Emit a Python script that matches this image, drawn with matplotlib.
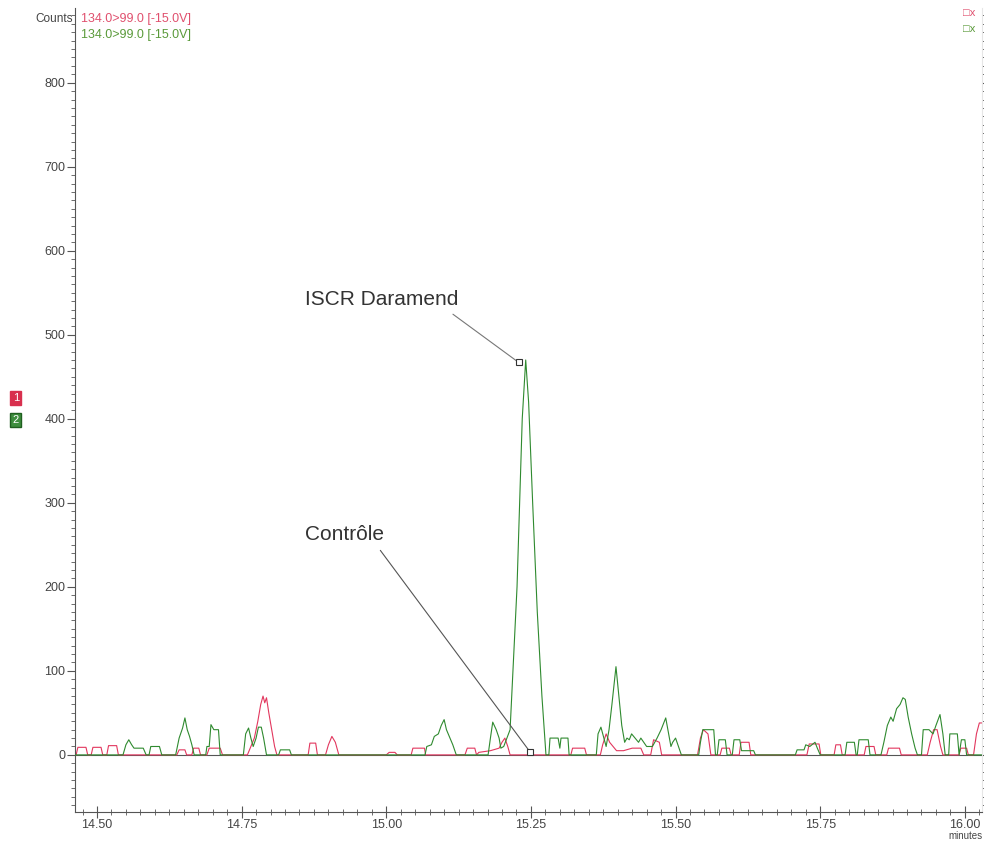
import numpy as np
import matplotlib
matplotlib.use("Agg")
import matplotlib.pyplot as plt
from matplotlib.ticker import MultipleLocator, FuncFormatter

plt.rcParams['font.family'] = ['Liberation Sans', 'DejaVu Sans']

# Trace 2 (green) - retention time (minutes) and counts
green_t = [14.462, 14.545, 14.550, 14.555, 14.560, 14.564, 14.580, 14.585, 14.590, 14.593, 14.608, 14.612,
           14.636, 14.642, 14.648, 14.652, 14.656, 14.660, 14.664, 14.668,
           14.688, 14.690, 14.694, 14.697, 14.702, 14.710, 14.713,
           14.753, 14.757, 14.762, 14.766, 14.770, 14.775, 14.779, 14.784, 14.788, 14.793,
           14.814, 14.817, 14.833, 14.836,
           15.067, 15.070, 15.078, 15.083, 15.090, 15.095, 15.100, 15.104, 15.110, 15.115, 15.121,
           15.176, 15.180, 15.184, 15.190, 15.195, 15.198,
           15.203, 15.214, 15.226, 15.235, 15.241, 15.246, 15.253, 15.261, 15.269, 15.276,
           15.281, 15.283, 15.297, 15.300, 15.302, 15.314, 15.316,
           15.363, 15.366, 15.371, 15.376, 15.380, 15.385, 15.390, 15.397, 15.402, 15.407, 15.412,
           15.416, 15.420, 15.424, 15.430, 15.436, 15.440,
           15.450, 15.460, 15.468, 15.475, 15.483, 15.488, 15.492, 15.495, 15.500, 15.505, 15.510,
           15.540, 15.543, 15.547, 15.566, 15.569,
           15.572, 15.575, 15.586, 15.589,
           15.598, 15.601, 15.611, 15.614, 15.635, 15.638,
           15.707, 15.710, 15.722, 15.725, 15.732, 15.741, 15.745, 15.750,
           15.793, 15.796, 15.809, 15.812, 15.814, 15.817, 15.833, 15.836,
           15.855, 15.860, 15.866, 15.872, 15.876, 15.882, 15.888, 15.893, 15.897, 15.902, 15.908, 15.914, 15.918,
           15.925, 15.928, 15.938, 15.945, 15.950, 15.957, 15.962, 15.966,
           15.972, 15.974, 15.987, 15.990, 15.994, 16.000, 16.003, 16.030]
green_c = [0, 0, 12, 18, 12, 8, 8, 0, 0, 10, 10, 0,
           0, 20, 32, 44, 30, 22, 12, 0,
           0, 10, 10, 36, 30, 30, 0,
           0, 25, 32, 20, 10, 20, 33, 33, 20, 0,
           0, 6, 6, 0,
           0, 10, 12, 22, 25, 35, 42, 30, 20, 12, 0,
           0, 20, 39, 30, 20, 8,
           10, 30, 200, 400, 470, 420, 300, 170, 70, 0,
           0, 20, 20, 8, 20, 20, 0,
           0, 25, 33, 20, 10, 30, 60, 105, 70, 35, 15,
           20, 18, 25, 20, 15, 20,
           10, 10, 20, 30, 44, 25, 10, 15, 20, 10, 0,
           0, 15, 30, 30, 0,
           0, 18, 18, 0,
           0, 18, 18, 5, 5, 0,
           0, 6, 6, 12, 10, 15, 8, 0,
           0, 15, 15, 0, 0, 18, 18, 0,
           0, 15, 35, 45, 40, 55, 60, 68, 66, 45, 25, 8, 0,
           0, 30, 30, 25, 35, 48, 25, 0,
           0, 25, 25, 0, 18, 18, 0, 0]

# Trace 1 (red)
red_t = [14.462, 14.464, 14.467, 14.481, 14.484, 14.490, 14.493, 14.507, 14.510, 14.517, 14.520, 14.534, 14.537,
         14.638, 14.642, 14.652, 14.655, 14.664, 14.667, 14.676, 14.679, 14.690, 14.694, 14.713, 14.717,
         14.760, 14.766, 14.772, 14.778, 14.783, 14.787, 14.790, 14.793, 14.797, 14.802, 14.807, 14.811,
         14.865, 14.868, 14.878, 14.881,
         14.895, 14.900, 14.906, 14.912, 14.918,
         15.000, 15.005, 15.015, 15.019,
         15.043, 15.046, 15.066, 15.068,
         15.136, 15.140, 15.153, 15.156,
         15.160, 15.180, 15.195, 15.200, 15.205, 15.210, 15.214,
         15.319, 15.322, 15.343, 15.346,
         15.370, 15.374, 15.380, 15.386, 15.392, 15.398, 15.410, 15.425, 15.440, 15.445,
         15.457, 15.462, 15.472, 15.476,
         15.538, 15.543, 15.548, 15.556, 15.561,
         15.577, 15.580, 15.593, 15.596,
         15.610, 15.613, 15.627, 15.630,
         15.727, 15.731, 15.748, 15.751,
         15.774, 15.777, 15.785, 15.788,
         15.826, 15.829, 15.843, 15.846,
         15.865, 15.868, 15.887, 15.890,
         15.935, 15.940, 15.946, 15.952, 15.958, 15.962,
         15.990, 15.993, 16.003, 16.006, 16.015, 16.020, 16.025, 16.030]
red_c = [0, 0, 9, 9, 0, 0, 9, 9, 0, 0, 11, 11, 0,
         0, 6, 6, 0, 0, 8, 8, 0, 0, 8, 8, 0,
         0, 10, 20, 40, 60, 70, 62, 68, 50, 30, 10, 0,
         0, 14, 14, 0,
         0, 12, 22, 15, 0,
         0, 3, 3, 0,
         0, 8, 8, 0,
         0, 8, 8, 0,
         3, 5, 8, 15, 20, 10, 0,
         0, 8, 8, 0,
         0, 12, 25, 15, 10, 5, 5, 8, 8, 0,
         0, 18, 15, 0,
         0, 20, 30, 25, 0,
         0, 8, 8, 0,
         0, 15, 15, 0,
         0, 13, 13, 0,
         0, 12, 12, 0,
         0, 10, 10, 0,
         0, 8, 8, 0,
         0, 15, 30, 30, 10, 0,
         0, 8, 8, 0, 0, 25, 38, 38]

x_ticks = [14.50, 14.75, 15.00, 15.25, 15.50, 15.75, 16.00]
y_ticks = [0, 100, 200, 300, 400, 500, 600, 700, 800]

red = '#e2375e'
green = '#2f8a2f'

fig = plt.figure(figsize=(9.84, 8.42), dpi=100)
ax = fig.add_axes([0.0762, 0.0356, 0.922, 0.955])

ax.axhline(0, color='#555555', lw=0.8, zorder=1)
ax.plot(red_t, red_c, color=red, lw=0.8, zorder=2)
ax.plot(green_t, green_c, color=green, lw=0.8, zorder=3)

ax.set_xlim(14.462, 16.03)
ax.set_ylim(-68, 889)

ax.set_xticks(x_ticks)
ax.xaxis.set_minor_locator(MultipleLocator(0.025))
ax.xaxis.set_major_formatter(FuncFormatter(lambda v, _: f'{v:.2f}'))
ax.set_yticks(y_ticks)
ax.yaxis.set_minor_locator(MultipleLocator(10))

ax.spines['top'].set_visible(False)
ax.spines['right'].set_color('#e6e6e6')
ax.spines['left'].set_color('#555555')
ax.spines['bottom'].set_color('#555555')
ax.spines['left'].set_linewidth(0.8)
ax.spines['bottom'].set_linewidth(0.8)

ax.tick_params(axis='y', which='major', direction='out', length=6, width=0.8, color='#555555',
               labelsize=9, labelcolor='#444444', pad=1)
ax.tick_params(axis='y', which='minor', direction='out', length=3, width=0.6, color='#555555')
ax.tick_params(axis='x', which='major', direction='inout', length=8, width=0.8, color='#555555',
               labelsize=9, labelcolor='#444444', pad=1)
ax.tick_params(axis='x', which='minor', direction='inout', length=4, width=0.6, color='#555555')
ax.tick_params(axis='y', which='both', right=True, labelright=False)
for t in ax.yaxis.get_major_ticks() + ax.yaxis.get_minor_ticks():
    t.tick2line.set_color('#dddddd')

# peak annotations
ax.annotate('ISCR Daramend', xy=(15.229, 467), xytext=(14.859, 542),
            fontsize=15, color='#333333', va='center', ha='left',
            arrowprops=dict(arrowstyle='-', color='#777777', lw=0.8, shrinkA=3, shrinkB=0,
                            relpos=(0.92, 0.0)))
ax.plot([15.229], [467], marker='s', ms=4, mfc='white', mec='#333333', mew=0.8, zorder=5)
ax.annotate('Contrôle', xy=(15.248, 4), xytext=(14.859, 262),
            fontsize=15, color='#333333', va='center', ha='left',
            arrowprops=dict(arrowstyle='-', color='#555555', lw=0.8, shrinkA=3, shrinkB=0,
                            relpos=(0.9, 0.0)))
ax.plot([15.248], [4], marker='s', ms=4, mfc='white', mec='#333333', mew=0.8, zorder=5)

# header texts
fig.text(0.074, 0.978, 'Counts', fontsize=8.5, color='#444444', ha='right', va='center')
fig.text(0.082, 0.978, '134.0>99.0 [-15.0V]', fontsize=9, color='#e0506e', ha='left', va='center')
fig.text(0.082, 0.958, '134.0>99.0 [-15.0V]', fontsize=9, color='#5a9a3a', ha='left', va='center')
fig.text(0.9785, 0.984, '□x', fontsize=8, color='#e0506e', ha='left', va='center')
fig.text(0.9785, 0.965, '□x', fontsize=8, color='#5a9a3a', ha='left', va='center')
fig.text(0.981, 0.007, 'minutes', fontsize=7, color='#444444', ha='center', va='center')

# trace markers on the left
fig.text(0.016, 0.527, '1', fontsize=8, color='white', ha='center', va='center',
         bbox=dict(boxstyle='square,pad=0.2', fc='#d8304e', ec='#d8304e'))
fig.text(0.016, 0.501, '2', fontsize=8, color='white', ha='center', va='center',
         bbox=dict(boxstyle='square,pad=0.2', fc='#3e8e3e', ec='#1f5f1f'))

fig.savefig('out.png', dpi=100)
